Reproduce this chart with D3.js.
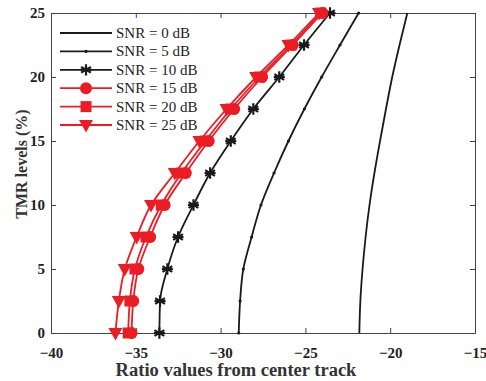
<!DOCTYPE html>
<html>
<head>
<meta charset="utf-8">
<script src="https://cdn.jsdelivr.net/npm/d3@7"></script>
<style>
  body { margin: 0; background: #fff; }
  svg { font-family: "Liberation Serif", "DejaVu Serif", serif; }
</style>
</head>
<body>
<svg id="chart" width="486" height="381"></svg>
<script>
// TMR levels (%) — one point every 2.5
var tmrLevels = [0, 2.5, 5, 7.5, 10, 12.5, 15, 17.5, 20, 22.5, 25];

// ratio values, one array per SNR
var snr0  = [-21.82, -21.76, -21.63, -21.45, -21.22, -20.93, -20.6, -20.25, -19.88, -19.45, -18.99];
var snr5  = [-28.93, -28.85, -28.66, -28.17, -27.62, -26.85, -26.0, -25.06, -24.04, -22.96, -21.86];
var snr10 = [-33.61, -33.57, -33.14, -32.51, -31.6, -30.62, -29.4, -28.07, -26.54, -25.08, -23.55];
var snr15 = [-35.25, -35.15, -34.85, -34.15, -33.3, -32.05, -30.7, -29.2, -27.55, -25.75, -24.0];
var snr20 = [-35.45, -35.35, -35.05, -34.4, -33.5, -32.3, -30.9, -29.4, -27.7, -25.85, -24.1];
var snr25 = [-36.2, -36.0, -35.65, -34.95, -34.1, -32.7, -31.25, -29.65, -27.9, -26.0, -24.2];

var seriesNames = ["SNR = 0 dB", "SNR = 5 dB", "SNR = 10 dB", "SNR = 15 dB", "SNR = 20 dB", "SNR = 25 dB"];

var xTicks = [-40, -35, -30, -25, -20, -15];
var yTicks = [0, 5, 10, 15, 20, 25];

var red = "#ec1c24", black = "#1a1a1a";

var series = [
    { name: seriesNames[0], vals: snr0,  color: black, marker: "none" },
    { name: seriesNames[1], vals: snr5,  color: black, marker: "dot" },
    { name: seriesNames[2], vals: snr10, color: black, marker: "star" },
    { name: seriesNames[3], vals: snr15, color: red,   marker: "circle" },
    { name: seriesNames[4], vals: snr20, color: red,   marker: "square" },
    { name: seriesNames[5], vals: snr25, color: red,   marker: "triangle" }
];

var svg = d3.select("#chart");
// plot box edges (note: "top" is taken by window.top)
var pLeft = 51, pRight = 475, pTop = 13, pBottom = 333;

var x = d3.scaleLinear().domain([-40, -15]).range([pLeft, pRight]);
var y = d3.scaleLinear().domain([0, 25]).range([pBottom, pTop]);

var axisColor = "#444";

// axes with inward ticks
var gx = svg.append("g")
    .attr("transform", "translate(0," + pBottom + ")")
    .call(d3.axisBottom(x).tickValues(xTicks).tickSizeInner(-5).tickSizeOuter(0).tickPadding(14));
var gxTop = svg.append("g")
    .attr("transform", "translate(0," + pTop + ")")
    .call(d3.axisTop(x).tickValues(xTicks).tickSizeInner(-5).tickSizeOuter(0).tickFormat(""));
var gy = svg.append("g")
    .attr("transform", "translate(" + pLeft + ",0)")
    .call(d3.axisLeft(y).tickValues(yTicks).tickSizeInner(-5).tickSizeOuter(0).tickPadding(6));
var gyRight = svg.append("g")
    .attr("transform", "translate(" + pRight + ",0)")
    .call(d3.axisRight(y).tickValues(yTicks).tickSizeInner(-5).tickSizeOuter(0).tickFormat(""));

[gx, gxTop, gy, gyRight].forEach(function (g) {
    g.selectAll("path").attr("stroke", axisColor).attr("stroke-width", 1);
    g.selectAll("line").attr("stroke", axisColor).attr("stroke-width", 1);
    g.selectAll("text")
        .attr("fill", "#222")
        .style("font-family", "Liberation Serif, serif")
        .style("font-size", "15px")
        .style("font-weight", "bold");
});

// axis titles
svg.append("text")
    .attr("x", 236)
    .attr("y", 376)
    .attr("text-anchor", "middle")
    .style("font-size", "18.5px")
    .style("font-weight", "bold")
    .attr("fill", "#333")
    .text("Ratio values from center track");

svg.append("text")
    .attr("transform", "translate(27," + 164 + ") rotate(-90)")
    .attr("text-anchor", "middle")
    .style("font-size", "16px")
    .style("font-weight", "bold")
    .attr("fill", "#333")
    .text("TMR levels (%)");

// marker drawing
function drawMarker(g, type, color) {
    if (type === "dot") {
        g.append("circle").attr("r", 1.6).attr("fill", color);
    } else if (type === "star") {
        g.append("path")
            .attr("d", d3.symbol().type(d3.symbolAsterisk).size(90)())
            .attr("stroke", color).attr("stroke-width", 2.2).attr("fill", "none");
        g.append("path")
            .attr("d", "M-5.5,0H5.5")
            .attr("stroke", color).attr("stroke-width", 2.2);
    } else if (type === "circle") {
        g.append("circle").attr("r", 6).attr("fill", color);
    } else if (type === "square") {
        g.append("rect").attr("x", -5.5).attr("y", -5.5).attr("width", 11).attr("height", 11).attr("fill", color);
    } else if (type === "triangle") {
        g.append("path").attr("d", "M-7,-5L7,-5L0,7.5Z").attr("fill", color);
    }
}

var line = d3.line()
    .x(function (d) { return x(d[0]); })
    .y(function (d) { return y(d[1]); })
    .curve(d3.curveMonotoneY);

var plot = svg.append("g");

series.forEach(function (s) {
    var pts = s.vals.map(function (v, i) { return [v, tmrLevels[i]]; });
    plot.append("path")
        .datum(pts)
        .attr("d", line)
        .attr("fill", "none")
        .attr("stroke", s.color)
        .attr("stroke-width", 1.8);
    if (s.marker !== "none") {
        pts.forEach(function (p) {
            var g = plot.append("g").attr("transform", "translate(" + x(p[0]) + "," + y(p[1]) + ")");
            drawMarker(g, s.marker, s.color);
        });
    }
});

// legend (no box)
var legend = svg.append("g");
series.forEach(function (s, i) {
    var ly = 33 + i * 18.4;
    legend.append("line")
        .attr("x1", 60).attr("x2", 112)
        .attr("y1", ly).attr("y2", ly)
        .attr("stroke", s.color).attr("stroke-width", 1.8);
    var g = legend.append("g").attr("transform", "translate(86," + ly + ")");
    drawMarker(g, s.marker, s.color);
    legend.append("text")
        .attr("x", 116).attr("y", ly + 5)
        .style("font-size", "15px")
        .attr("fill", "#222")
        .text(s.name);
});
</script>
</body>
</html>
